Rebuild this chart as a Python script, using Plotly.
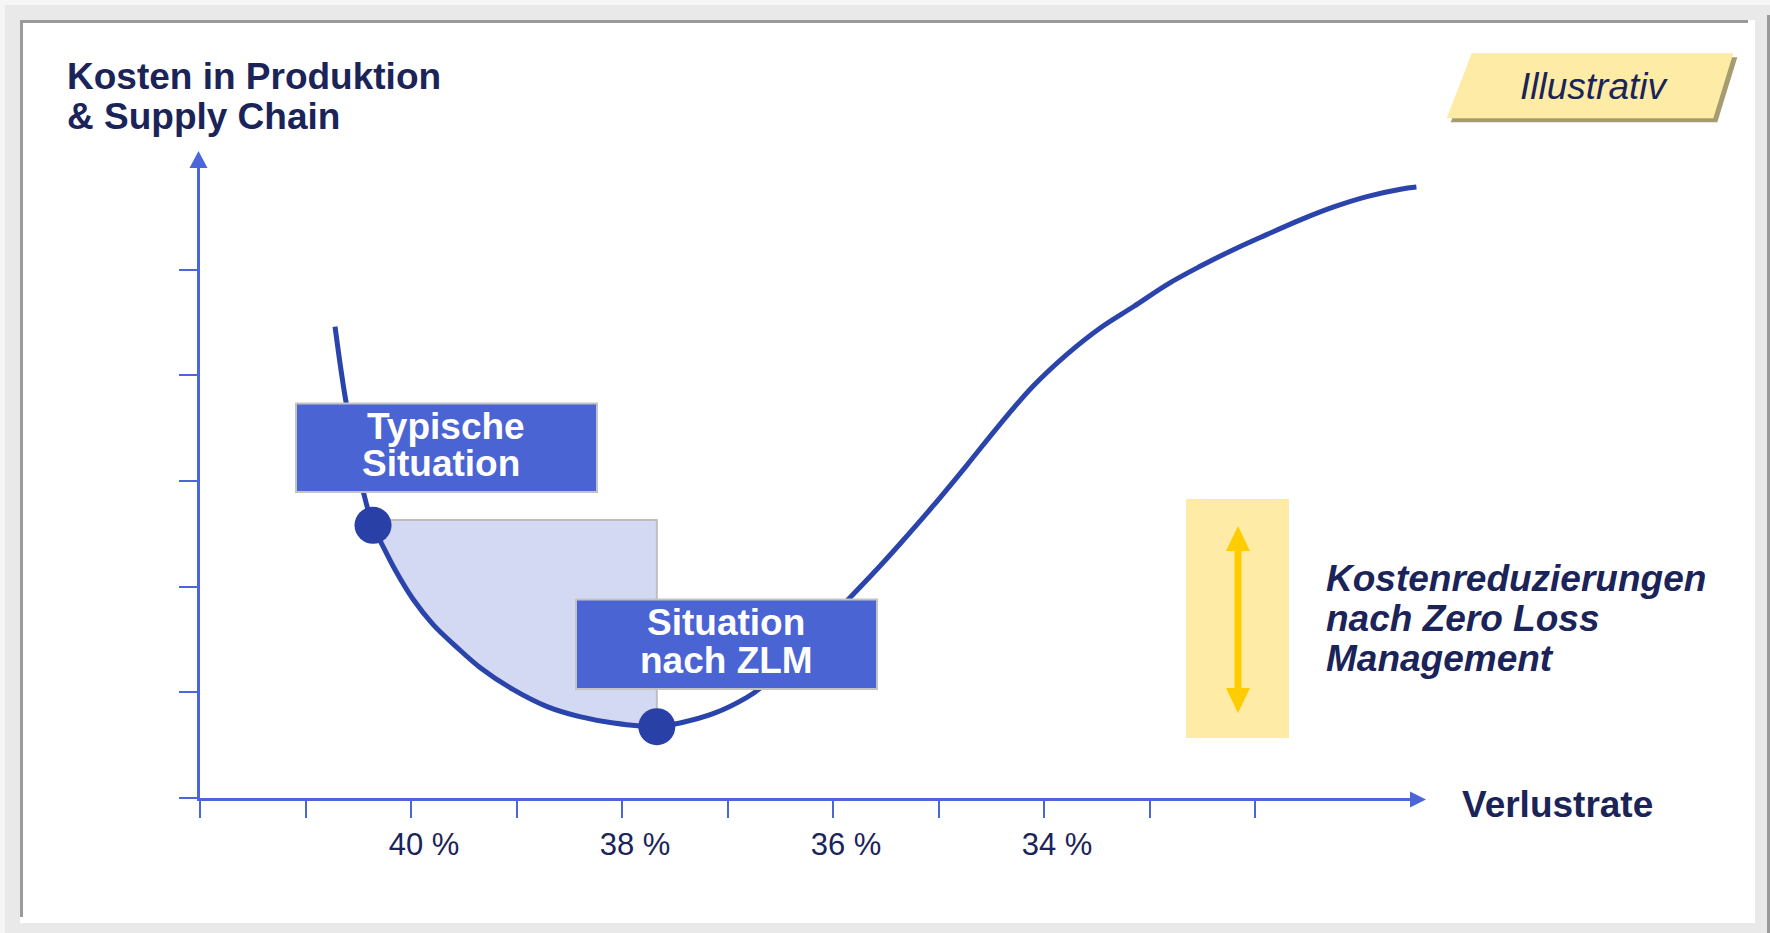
import plotly.graph_objects as go

# ---------------- data ----------------
verlustrate = [40.72, 40.62, 40.45, 40.36, 40.26, 40.14, 39.98, 39.79, 39.57, 39.34,
               39.03, 38.71, 38.40, 38.08, 37.67, 37.45, 37.13, 36.82, 36.69, 36.26,
               35.84, 35.55, 35.36, 35.05, 34.73, 34.41, 34.10, 33.78, 33.47, 33.15,
               32.83, 32.52, 32.20, 31.89, 31.57, 31.26, 30.94, 30.62, 30.47]
kosten = [4.46, 3.77, 2.89, 2.58, 2.37, 2.14, 1.88, 1.64, 1.43, 1.23,
          1.025, 0.865, 0.77, 0.71, 0.675, 0.71, 0.80, 0.95, 1.04, 1.465,
          1.895, 2.20, 2.41, 2.765, 3.15, 3.545, 3.90, 4.20, 4.445, 4.65,
          4.86, 5.03, 5.19, 5.33, 5.47, 5.59, 5.69, 5.76, 5.78]
situation_x = [40.36, 37.67]
situation_y = [2.58, 0.675]
shade_top = 2.63
x_ticks = [42, 41, 40, 39, 38, 37, 36, 35, 34, 33, 32]
x_tick_labels = ["", "", "40 %", "", "38 %", "", "36 %", "", "34 %", "", ""]
y_ticks = [0, 1, 2, 3, 4, 5]

# ---------------- layout constants ----------------
W, H = 1770, 933
ML, MR, MT, MB = 200, 352, 167, 135
PW = W - ML - MR
PH = H - MT - MB
PX_PER_X = 105.5
PX_PER_Y = 105.7

NAVY = "#1b2459"
AX = "#4a66d8"
CURVE = "#2b44ab"
DOT = "#2940a6"
BOX = "#4a64d4"
YEL = "#fdeba6"
FONT = "Liberation Sans, Arial, sans-serif"


def X(p):
    return (p - ML) / PW


def Y(p):
    return (H - MB - p) / PH


def rect(x0, y0, x1, y1, fill, line=None, lw=0, layer="below"):
    return dict(type="rect", xref="paper", yref="paper", x0=X(x0), x1=X(x1),
                y0=Y(y0), y1=Y(y1), fillcolor=fill,
                line=dict(color=line or fill, width=lw), layer=layer)


def poly(pts, fill, layer="above"):
    d = "M " + " L ".join(f"{X(a):.5f},{Y(b):.5f}" for a, b in pts) + " Z"
    return dict(type="path", xref="paper", yref="paper", path=d,
                fillcolor=fill, line=dict(width=0), layer=layer)


fig = go.Figure()

# shaded area between the two situations
i1 = verlustrate.index(situation_x[0])
i2 = verlustrate.index(situation_x[1])
shade_x = [situation_x[0]] + verlustrate[i1:i2 + 1] + [situation_x[1]]
shade_y = [shade_top] + kosten[i1:i2 + 1] + [shade_top]
fig.add_trace(go.Scatter(x=shade_x, y=shade_y, mode="lines", fill="toself",
                         fillcolor="#d4d9f3", line=dict(width=0), hoverinfo="skip"))
fig.add_trace(go.Scatter(x=[situation_x[0], situation_x[1], situation_x[1]],
                         y=[shade_top, shade_top, situation_y[1]], mode="lines",
                         line=dict(color="#bdbdbd", width=2), hoverinfo="skip"))
# cost curve
fig.add_trace(go.Scatter(x=verlustrate, y=kosten, mode="lines",
                         line=dict(color=CURVE, width=5, shape="spline", smoothing=1.0),
                         cliponaxis=False))
# situation dots
fig.add_trace(go.Scatter(x=situation_x, y=situation_y, mode="markers",
                         marker=dict(size=37, color=DOT), cliponaxis=False))

shapes = [
    rect(5, 5, 1770, 933, "#e9e9e9"),
    rect(20, 20, 1755, 923, "#ffffff"),
    rect(20, 20, 23, 917, "#9a9a9a"),
    rect(20, 20, 1748, 23, "#9a9a9a"),
    rect(1767, 15, 1770, 933, "#9a9a9a"),
    # Illustrativ tag
    poly([(1475.7, 57.3), (1737.3, 57.3), (1717.3, 122.3), (1450.7, 122.3)], "#a59c70", "below"),
    poly([(1471.7, 53.3), (1733.3, 53.3), (1713.3, 118.3), (1446.7, 118.3)], YEL, "below"),
    # yellow band with double arrow
    rect(1186, 499, 1289, 738, YEL),
    rect(1234.5, 546, 1241.5, 692, "#ffcc00", layer="above"),
    poly([(1238, 526), (1250, 551), (1226, 551)], "#ffcc00"),
    poly([(1238, 713), (1250, 688), (1226, 688)], "#ffcc00"),
    # axis arrowheads
    poly([(1426, 799.5), (1410, 791.5), (1410, 807.5)], AX),
    poly([(198.5, 151), (189.5, 168), (207.5, 168)], AX),
    # label boxes
    rect(296, 403.5, 597, 492, BOX, "#c3c3c3", 2, "above"),
    rect(576, 599.5, 877, 689, BOX, "#c3c3c3", 2, "above"),
]


def txt(s, x, y, size=37, color=NAVY, bold=True, italic=False, xanchor="left"):
    t = s
    if bold:
        t = f"<b>{t}</b>"
    if italic:
        t = f"<i>{t}</i>"
    return dict(text=t, xref="paper", yref="paper", x=X(x), y=Y(y), showarrow=False,
                xanchor=xanchor, yanchor="middle", borderpad=0,
                font=dict(family=FONT, size=size, color=color))


annotations = [
    txt("Kosten in Produktion", 66, 76),
    txt("&amp; Supply Chain", 66, 116.5),
    txt("Illustrativ", 1594, 86, bold=False, italic=True, xanchor="center"),
    txt("Verlustrate", 1461, 805),
    txt("Typische", 446, 426.5, color="#ffffff", xanchor="center"),
    txt("Situation", 441, 463.5, color="#ffffff", xanchor="center"),
    txt("Situation", 726, 622.5, color="#ffffff", xanchor="center"),
    txt("nach ZLM", 726.5, 660, color="#ffffff", xanchor="center"),
    txt("Kostenreduzierungen", 1325, 578.5, italic=True),
    txt("nach Zero Loss", 1325, 618.5, italic=True),
    txt("Management", 1325, 658.5, italic=True),
]

fig.update_layout(
    width=W, height=H, autosize=False,
    margin=dict(l=ML, r=MR, t=MT, b=MB),
    paper_bgcolor="#f5f5f5", plot_bgcolor="rgba(0,0,0,0)",
    showlegend=False, hovermode=False,
    shapes=shapes, annotations=annotations,
    font=dict(family=FONT, color=NAVY),
    xaxis=dict(range=[42, 42 - PW / PX_PER_X], tickmode="array", tickvals=x_ticks,
               ticktext=x_tick_labels, ticks="outside", ticklen=17, tickwidth=2,
               tickcolor=AX, showline=True, linecolor=AX, linewidth=3,
               showgrid=False, zeroline=False, ticklabelshift=-13,
               tickfont=dict(family=FONT, size=31, color=NAVY), fixedrange=True),
    yaxis=dict(range=[0, PH / PX_PER_Y], tickmode="array", tickvals=y_ticks,
               ticks="outside", ticklen=18, tickwidth=2, tickcolor=AX,
               showticklabels=False, showline=True, linecolor=AX, linewidth=3,
               showgrid=False, zeroline=False, fixedrange=True),
)

fig.write_html("out.html", config={"displayModeBar": False})
